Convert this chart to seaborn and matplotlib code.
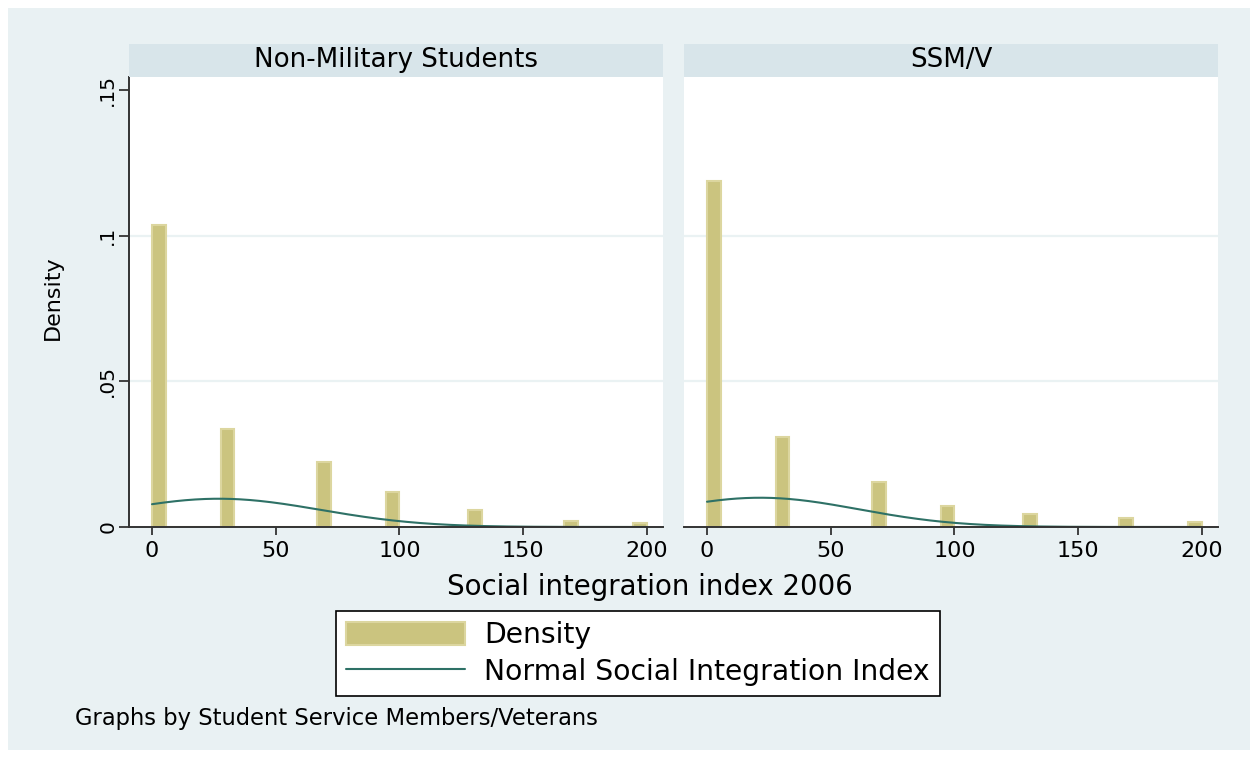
import numpy as np
import pandas as pd
import matplotlib
matplotlib.use("Agg")
import matplotlib.pyplot as plt
from matplotlib.patches import Patch, Rectangle
from matplotlib.lines import Line2D
import seaborn as sns

# Histogram bins (36 bins of equal width over 0-200); values are bin centres
bin_centers = [2.78, 30.56, 69.44, 97.22, 130.56, 169.44, 197.22]
density_nonmil = [0.1037, 0.0335, 0.0222, 0.0119, 0.0058, 0.0020, 0.0013]
density_ssmv = [0.1188, 0.0309, 0.0155, 0.0072, 0.0045, 0.0031, 0.0017]

groups = ["Non-Military Students", "SSM/V"]
# Normal curve parameters (mean, sd) for each group
norm_mean = [27.0, 21.5]
norm_sd = [41.1, 39.7]

y_ticks = [0, 0.05, 0.10, 0.15]
y_ticklabels = ["0", ".05", ".1", ".15"]
x_ticks = [0, 50, 100, 150, 200]

BG = "#e9f1f3"
STRIP = "#d8e5ea"
BAR = "#cbc47f"
BAR_EDGE = "#dcd69f"
LINE = "#2e7166"
GRID = "#eaf2f3"
INK = "#000000"

sns.set_theme(style="white")
plt.rcParams["font.family"] = ["DejaVu Sans"]
plt.rcParams["text.color"] = INK
plt.rcParams["xtick.color"] = INK
plt.rcParams["ytick.color"] = INK

fig = plt.figure(figsize=(12.58, 7.58), dpi=100)
fig.patch.set_facecolor("white")
W, H = 1258, 758
fig.patches.append(Rectangle((8 / W, 8 / H), (W - 16) / W, (H - 16) / H,
                             transform=fig.transFigure, facecolor=BG,
                             edgecolor="none", zorder=-10))

df = pd.concat([
    pd.DataFrame({"group": groups[0], "index": bin_centers, "density": density_nonmil}),
    pd.DataFrame({"group": groups[1], "index": bin_centers, "density": density_ssmv}),
])


def px_rect(x0, y0, x1, y1):
    return [x0 / W, 1 - y1 / H, (x1 - x0) / W, (y1 - y0) / H]


panel_x = [(129, 663), (684, 1218)]
for i, (g, (x0, x1)) in enumerate(zip(groups, panel_x)):
    ax = fig.add_axes(px_rect(x0, 77, x1, 527))
    ax.set_facecolor("white")
    sub = df[df["group"] == g]
    sns.histplot(data=sub, x="index", weights="density", bins=36,
                 binrange=(0, 200), stat="count", ax=ax,
                 color=BAR, edgecolor=BAR_EDGE, linewidth=1.5, alpha=1)
    xs = np.linspace(0, 200, 400)
    pdf = np.exp(-0.5 * ((xs - norm_mean[i]) / norm_sd[i]) ** 2) / (norm_sd[i] * np.sqrt(2 * np.pi))
    sns.lineplot(x=xs, y=pdf, ax=ax, color=LINE, linewidth=1.5)

    ax.set_xlim(-9.3, 206.5)
    ax.set_ylim(0, 0.1545)
    ax.set_yticks(y_ticks)
    ax.set_xticks(x_ticks)
    ax.set_xticklabels([str(t) for t in x_ticks], fontsize=16)
    for y in y_ticks[1:3]:
        ax.axhline(y, color=GRID, linewidth=1.6, zorder=0)
    ax.set_xlabel("")
    ax.set_ylabel("")
    for s in ["top", "right"]:
        ax.spines[s].set_visible(False)
    ax.spines["bottom"].set_color("#333333")
    ax.spines["bottom"].set_linewidth(1.4)
    ax.tick_params(axis="x", direction="out", length=6, width=1.3,
                   color="#333333", pad=4, bottom=True)
    if i == 0:
        ax.spines["left"].set_color("#333333")
        ax.spines["left"].set_linewidth(1.4)
        ax.set_yticklabels(y_ticklabels, fontsize=14.5, rotation=90, va="center")
        ax.tick_params(axis="y", direction="out", length=7, width=1.3,
                       color="#333333", pad=1.5, left=True)
    else:
        ax.spines["left"].set_visible(False)
        ax.set_yticklabels([])
        ax.tick_params(axis="y", left=False)

    # panel strip title
    sax = fig.add_axes(px_rect(x0, 44, x1, 77))
    sax.set_facecolor(STRIP)
    sax.set_xticks([])
    sax.set_yticks([])
    for s in sax.spines.values():
        s.set_visible(False)
    sax.text(0.5, 0.52, g, ha="center", va="center", fontsize=18.8, color=INK)

fig.text(53 / W, 1 - 298 / H, "Density", rotation=90, ha="center", va="center", fontsize=16)
fig.text(650 / W, 1 - 587 / H, "Social integration index 2006", ha="center", va="center", fontsize=19.9)
fig.text(75 / W, 1 - 719 / H, "Graphs by Student Service Members/Veterans", ha="left", va="center", fontsize=16.3)

handles = [Patch(facecolor=BAR, edgecolor=BAR_EDGE, linewidth=1.5),
           Line2D([], [], color=LINE, linewidth=1.5)]
leg = fig.legend(handles, ["Density", "Normal Social Integration Index"],
                 loc="center left", bbox_to_anchor=(336 / W, 1 - 653.5 / H),
                 fontsize=20.3, frameon=True, fancybox=False, edgecolor="black",
                 framealpha=1, handlelength=4.2, handleheight=0.9, handletextpad=0.7,
                 labelspacing=0.3, borderpad=0.36, borderaxespad=0)
leg.get_frame().set_linewidth(1.2)
leg.get_frame().set_facecolor("white")

fig.savefig("out.png", dpi=100, facecolor=fig.get_facecolor())
